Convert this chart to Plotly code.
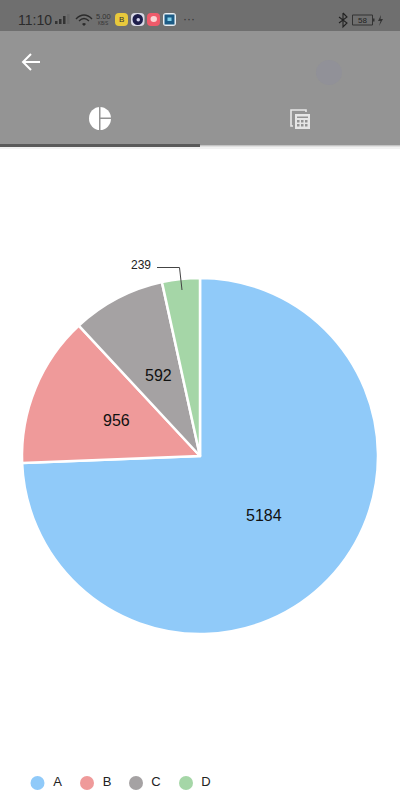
import plotly.graph_objects as go

categories = ["A", "B", "C", "D"]
values = [5184, 956, 592, 239]
colors = ["#90CAF9", "#EF9A9A", "#A5A2A3", "#A5D6A7"]
legend_x = [37.5, 87, 136, 186]
legend_label_x = [57.5, 107, 156, 206]
label_x = [263.5, 116.5, 158, 141]
label_y = [515, 420, 375, 265]
FONT = "Liberation Sans"

fig = go.Figure()
fig.add_trace(go.Pie(
    labels=categories, values=values, sort=False, direction="clockwise", rotation=0,
    marker=dict(colors=colors, line=dict(color="white", width=2.5)),
    domain=dict(x=[22/400, 378/400], y=[166/800, 522/800]),
    textinfo="none", showlegend=False, hoverinfo="label+value",
))
fig.add_trace(go.Scatter(
    x=legend_x, y=[783]*4, mode="markers",
    marker=dict(size=14, color=colors), showlegend=False, hoverinfo="skip",
))
fig.add_trace(go.Scatter(
    x=legend_label_x, y=[783]*4, mode="text", text=categories,
    textfont=dict(family=FONT, size=13, color="#222"), showlegend=False, hoverinfo="skip",
))

shapes = []
def rect(x0, y0, x1, y1, color):
    shapes.append(dict(type="rect", x0=x0, y0=y0, x1=x1, y1=y1, fillcolor=color,
                       line=dict(width=0), layer="above"))
def path(d, fill=None, line=None, width=1.5):
    shapes.append(dict(type="path", path=d, fillcolor=fill or "rgba(0,0,0,0)",
                       line=dict(color=line or "rgba(0,0,0,0)", width=width if line else 0), layer="above"))
def circle(x0, y0, x1, y1, color):
    shapes.append(dict(type="circle", x0=x0, y0=y0, x1=x1, y1=y1, fillcolor=color,
                       line=dict(width=0), layer="above"))
def rounded(x0, y0, x1, y1, r, fill):
    path(f"M{x0+r} {y0} L{x1-r} {y0} Q{x1} {y0} {x1} {y0+r} L{x1} {y1-r} Q{x1} {y1} {x1-r} {y1} "
         f"L{x0+r} {y1} Q{x0} {y1} {x0} {y1-r} L{x0} {y0+r} Q{x0} {y0} {x0+r} {y0} Z", fill=fill)

# header
rect(0, 0, 400, 31, "#6f6f6f")
rect(0, 31, 400, 145, "#949494")
rect(0, 144, 200, 147, "#5a5a5a")
rect(200, 145, 400, 146.5, "#c4c4c4")
rect(0, 147, 400, 149, "#f2f2f2")
# back arrow
path("M23 62 L40 62", line="white", width=2)
path("M31 54 L23 62 L31 70", line="white", width=2)
# faint avatar
circle(316, 60, 342, 85, "rgba(135,135,165,0.25)")
# pie tab icon
circle(89, 107, 111, 130, "white")
rect(99, 107, 100.5, 130, "#949494")
rect(100, 117.5, 111, 119, "#949494")
# table tab icon
path("M293 126 L291 126 L291 110 L306 110 L306 112", line="#e6e6e6", width=1.6)
rect(295, 114, 310, 129, "#e6e6e6")
for yy in (120, 124):
    for xx in (297, 301, 305):
        rect(xx, yy, xx + 2.5, yy + 2.5, "#949494")
rect(297, 116.5, 308, 118, "#949494")
# status bar icons
for i, (h, c) in enumerate(zip((3, 5, 8, 10), ("#333", "#333", "#333", "#666"))):
    rect(55 + i*4, 24 - h, 57.5 + i*4, 24, c)
path("M76 19 Q84 11 92 19", line="#2b2b2b", width=1.4)
path("M79 21 Q84 16 89 21", line="#2b2b2b", width=1.3)
path("M82 24 L84 26 L86 24 Q84 22 82 24 Z", fill="#2b2b2b")
rounded(115, 13, 128, 26, 4, "#E8C93C")
rounded(131, 13, 144.5, 26, 4, "#d9d9e6")
circle(132.5, 14, 143, 25, "#1d1d4a")
circle(136.5, 18, 140, 21.5, "#d8d8f0")
rounded(147, 13, 160, 26, 4, "#EE5A6A")
circle(150.5, 16, 157, 22, "#f9d4d4")
rounded(163, 13, 176, 26, 3, "#e8eef2")
rect(164.5, 14.5, 174.5, 24.5, "#1c5c86")
rect(167.5, 17.5, 171.5, 21, "#7fd0e8")
# bluetooth, battery, bolt
path("M343 13 L343 27 L347 23 L339 17 M343 13 L347 17 L339 23", line="#222", width=1.1)
shapes.append(dict(type="rect", x0=352.5, y0=15, x1=372.5, y1=25, line=dict(color="#333", width=1),
                   fillcolor="rgba(0,0,0,0)", layer="above"))
rect(373, 18.5, 374.5, 21.5, "#333")
path("M381 15 L378 21 L380.5 21 L379 26 L383 19 L380.5 19 Z", fill="#333")
# leader line for D
path("M157 267.5 L179.5 267.5 L182 290", line="#444", width=1)

ann = []
def text(x, y, s, size=11, color="#222", anchor="left", family=FONT):
    ann.append(dict(x=x, y=y, xref="x", yref="y", text=s, showarrow=False, xanchor=anchor,
                    yanchor="middle", font=dict(family=family, size=size, color=color)))
text(15.5, 20, "11:10", size=14, color="#2b2b2b")
text(103, 16.5, "5.00", size=7.5, color="#333", anchor="center")
text(103, 23, "KB/S", size=4.5, color="#333", anchor="center")
text(181, 19, "···", size=12, color="#333")
text(362.5, 20, "58", size=8, color="#222", anchor="center")
text(121.5, 19.5, "B", size=8, color="#333", anchor="center")
for i in range(3):
    text(label_x[i], label_y[i], str(values[i]), size=16, color="#111", anchor="center")
text(label_x[3], label_y[3], str(values[3]), size=12, color="#222", anchor="center")

fig.update_layout(
    width=400, height=800, autosize=False, margin=dict(l=0, r=0, t=0, b=0),
    paper_bgcolor="white", plot_bgcolor="rgba(0,0,0,0)",
    xaxis=dict(range=[0, 400], visible=False, fixedrange=True),
    yaxis=dict(range=[800, 0], visible=False, fixedrange=True),
    shapes=shapes, annotations=ann, showlegend=False,
)
fig.write_html("out.html", config=dict(displayModeBar=False),
               post_script="document.body.style.margin='0';")
